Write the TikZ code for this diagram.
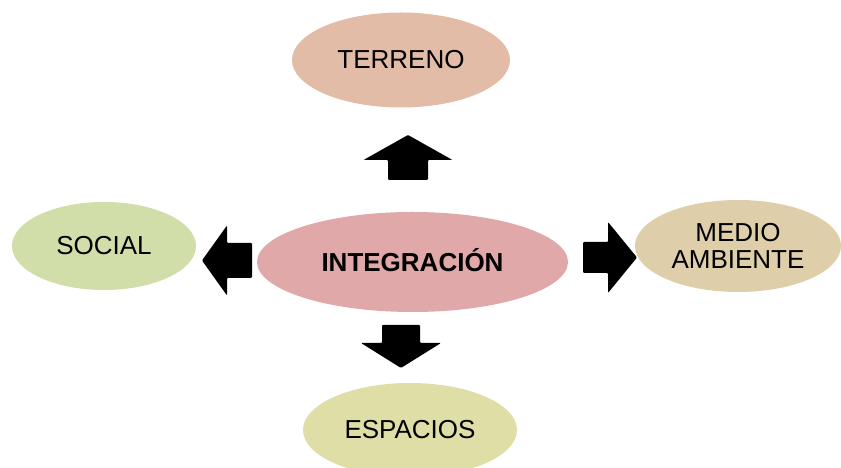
\documentclass[tikz,border=0pt]{standalone}
\usepackage{fontspec}
\setmainfont{Liberation Sans}
\definecolor{terrenopeach}{RGB}{226, 188, 167}
\definecolor{integrose}{RGB}{224, 168, 168}
\definecolor{socialgreen}{RGB}{209, 222, 170}
\definecolor{mediosand}{RGB}{222, 206, 170}
\definecolor{espaciosolive}{RGB}{222, 222, 166}
\usetikzlibrary{positioning,shapes.geometric,calc}

\tikzset{
    blob/.style={ellipse, inner sep=0pt, align=center, font=\fontsize{26}{29}\selectfont},
    % block arrow, tail centre at the origin, pointing along +x
    pics/blockarrow/.style n args={4}{code={
        \fill[black, rounded corners=1pt] (0,-#4) -- ({#1-#2},-#4) -- ({#1-#2},-#3) -- (#1,0)
            -- ({#1-#2},#3) -- ({#1-#2},#4) -- (0,#4) -- cycle;
    }}
}

\begin{document}
\begin{tikzpicture}[x=1pt,y=1pt]
    \useasboundingbox (0,0) rectangle (841,468);

    \node[blob, fill=integrose, minimum width=311pt, minimum height=100pt, text height=19pt, text depth=0pt,
          font=\fontsize{26}{28}\selectfont\bfseries] (integ) at (412.5,206) {INTEGRACIÓN};
    \node[blob, fill=terrenopeach, minimum width=218pt, minimum height=95pt] (terreno) at (401,408) {TERRENO};
    \node[blob, fill=socialgreen, minimum width=184pt, minimum height=88pt] (social) at (104,222) {SOCIAL};
    \node[blob, fill=mediosand, minimum width=206pt, minimum height=92pt] (medio) at (738,222) {MEDIO\\[-2pt]AMBIENTE};
    \node[blob, fill=espaciosolive, minimum width=214pt, minimum height=94pt] (espacios) at (410,38) {ESPACIOS};

    \pic[rotate=90] at (408,288) {blockarrow={45}{25}{44.5}{20}};
    \pic[rotate=180] at (252,207.5) {blockarrow={50}{25}{35}{17.5}};
    \pic at (583,210.5) {blockarrow={54}{29}{35.5}{15.5}};
    \pic[rotate=-90] at (401,143) {blockarrow={43}{25}{40}{19}};
\end{tikzpicture}
\end{document}
